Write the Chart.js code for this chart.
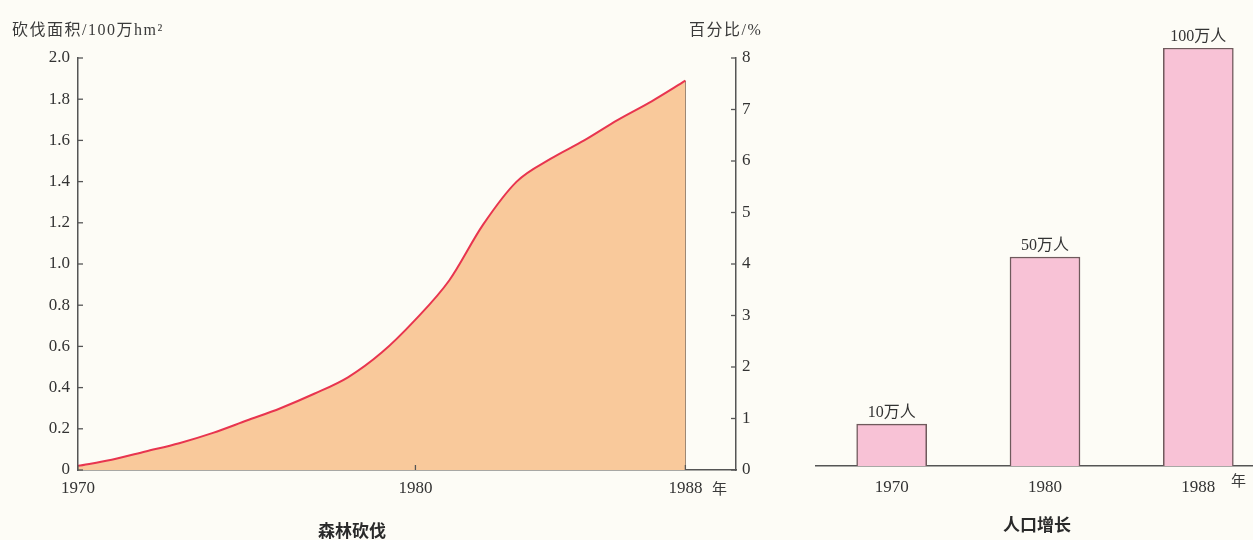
<!DOCTYPE html>
<html>
<head>
<meta charset="utf-8">
<script src="https://cdn.jsdelivr.net/npm/chart.js@4"></script>
<style>
  html, body { margin: 0; padding: 0; background: #fdfcf6; overflow: hidden; width: 1253px; height: 540px; }
  .box { position: absolute; }
  .txt { position: absolute; font-family: 'Liberation Serif', 'Noto Sans CJK SC', serif; color: #3a3a3a; white-space: nowrap; }
  .ttl { position: absolute; font-family: 'Noto Sans CJK SC', sans-serif; font-weight: bold; color: #2a2a2a; font-size: 17px; transform: translateX(-50%); }
</style>
</head>
<body>
<div class="box" style="left:0;top:0;width:800px;height:540px;"><canvas id="forestChart"></canvas></div>
<div class="box" style="left:815px;top:0;width:460px;height:540px;"><canvas id="popChart"></canvas></div>

<div class="txt" style="left:12px;top:16px;font-size:16px;letter-spacing:1.5px;">砍伐面积/100万hm²</div>
<div class="txt" style="left:689px;top:16px;font-size:16px;letter-spacing:1.5px;">百分比/%</div>
<div class="txt" style="left:712px;top:477px;font-size:15px;font-family:'Noto Sans CJK SC';">年</div>
<div class="txt" style="left:1231px;top:469px;font-size:15px;font-family:'Noto Sans CJK SC';">年</div>
<div class="ttl" style="left:352px;top:517px;">森林砍伐</div>
<div class="ttl" style="left:1037px;top:511px;">人口增长</div>

<script>
// forest clearing (area, 100万hm²)
const years = [1970, 1971, 1972, 1973, 1974, 1975, 1976, 1977, 1978, 1979,
               1980, 1981, 1982, 1983, 1984, 1985, 1986, 1987, 1988];
const area = [0.02, 0.05, 0.09, 0.13, 0.18, 0.24, 0.30, 0.37, 0.45, 0.57,
              0.73, 0.92, 1.19, 1.40, 1.51, 1.60, 1.70, 1.79, 1.89];
const xTicks = [1970, 1980, 1988];

// population growth (万人)
const popYears = ["1970", "1980", "1988"];
const popValues = [10, 50, 100];

const axisColor = "#555";
const numFont = { family: "'Liberation Serif', serif", size: 17 };

// draws small tick marks pointing into the plot area
const inwardTicks = {
  id: "inwardTicks",
  afterDraw(chart) {
    const ctx = chart.ctx;
    ctx.save();
    ctx.strokeStyle = axisColor;
    ctx.lineWidth = 1.3;
    Object.values(chart.scales).forEach((s) => {
      if (!s.options.inward) return;
      s.ticks.forEach((t, i) => {
        const p = s.getPixelForTick(i);
        ctx.beginPath();
        if (s.axis === "x") {
          ctx.moveTo(p, s.top); ctx.lineTo(p, s.top - 5);
        } else if (s.position === "left") {
          ctx.moveTo(s.right, p); ctx.lineTo(s.right + 5, p);
        } else {
          ctx.moveTo(s.left, p); ctx.lineTo(s.left - 5, p);
        }
        ctx.stroke();
      });
    });
    ctx.restore();
  },
};

new Chart(document.getElementById("forestChart"), {
  type: "line",
  data: {
    datasets: [
      {
        data: years.map((y, i) => ({ x: y, y: area[i] })),
        borderColor: "#e8354f",
        borderWidth: 2,
        backgroundColor: "#f9c99b",
        fill: "origin",
        pointRadius: 0,
        cubicInterpolationMode: "monotone",
        yAxisID: "y",
      },
      {
        // right edge of the shaded area at 1988
        data: [{ x: 1988, y: 0 }, { x: 1988, y: area[area.length - 1] }],
        borderColor: "#8c7b6c",
        borderWidth: 1.2,
        pointRadius: 0,
        fill: false,
        yAxisID: "y",
      },
    ],
  },
  options: {
    responsive: true,
    maintainAspectRatio: false,
    animation: false,
    layout: { padding: { top: 58, left: 0, right: 0, bottom: 0 } },
    plugins: { legend: { display: false }, tooltip: { enabled: false } },
    scales: {
      x: {
        type: "linear",
        min: 1970,
        max: 1989.5,
        inward: true,
        afterBuildTicks: (s) => { s.ticks = xTicks.map((v) => ({ value: v })); },
        afterFit: (s) => { s.height = 70; },
        grid: { display: false, drawTicks: false },
        border: { color: axisColor, width: 1.5 },
        ticks: { font: numFont, color: "#333", padding: 8, maxRotation: 0, callback: (v) => String(v) },
      },
      y: {
        position: "left",
        min: 0,
        max: 2,
        inward: true,
        afterFit: (s) => { s.width = 78; },
        grid: { display: false, drawTicks: false },
        border: { color: axisColor, width: 1.5 },
        ticks: { stepSize: 0.2, font: numFont, color: "#333", padding: 8,
                 callback: (v) => (v === 0 ? "0" : v.toFixed(1)) },
      },
      y2: {
        position: "right",
        min: 0,
        max: 8,
        inward: true,
        afterFit: (s) => { s.width = 64; },
        grid: { display: false, drawTicks: false },
        border: { color: axisColor, width: 1.5 },
        ticks: { stepSize: 1, font: numFont, color: "#333", padding: 6 },
      },
    },
  },
  plugins: [inwardTicks],
});

// value labels above the bars
const barLabels = {
  id: "barLabels",
  afterDatasetsDraw(chart) {
    const ctx = chart.ctx;
    const meta = chart.getDatasetMeta(0);
    ctx.save();
    ctx.fillStyle = "#333";
    ctx.font = "16px 'Liberation Serif', 'Noto Sans CJK SC', serif";
    ctx.textAlign = "center";
    ctx.textBaseline = "bottom";
    meta.data.forEach((el, i) => {
      ctx.fillText(popValues[i] + "万人", el.x, el.y - 3);
    });
    ctx.restore();
  },
};

new Chart(document.getElementById("popChart"), {
  type: "bar",
  data: {
    labels: popYears,
    datasets: [
      {
        data: popValues,
        backgroundColor: "#f8c2d6",
        borderColor: "#6f5a5c",
        borderWidth: 1.5,
        barThickness: 70,
      },
    ],
  },
  options: {
    responsive: true,
    maintainAspectRatio: false,
    animation: false,
    layout: { padding: { top: 48, left: 0, right: 0, bottom: 0 } },
    plugins: { legend: { display: false }, tooltip: { enabled: false } },
    scales: {
      x: {
        afterFit: (s) => { s.height = 74; },
        grid: { display: false, drawTicks: false },
        border: { color: axisColor, width: 1.5 },
        ticks: { font: numFont, color: "#333", padding: 11 },
      },
      y: { display: false, min: 0, max: 100 },
    },
  },
  plugins: [barLabels],
});
</script>
</body>
</html>
